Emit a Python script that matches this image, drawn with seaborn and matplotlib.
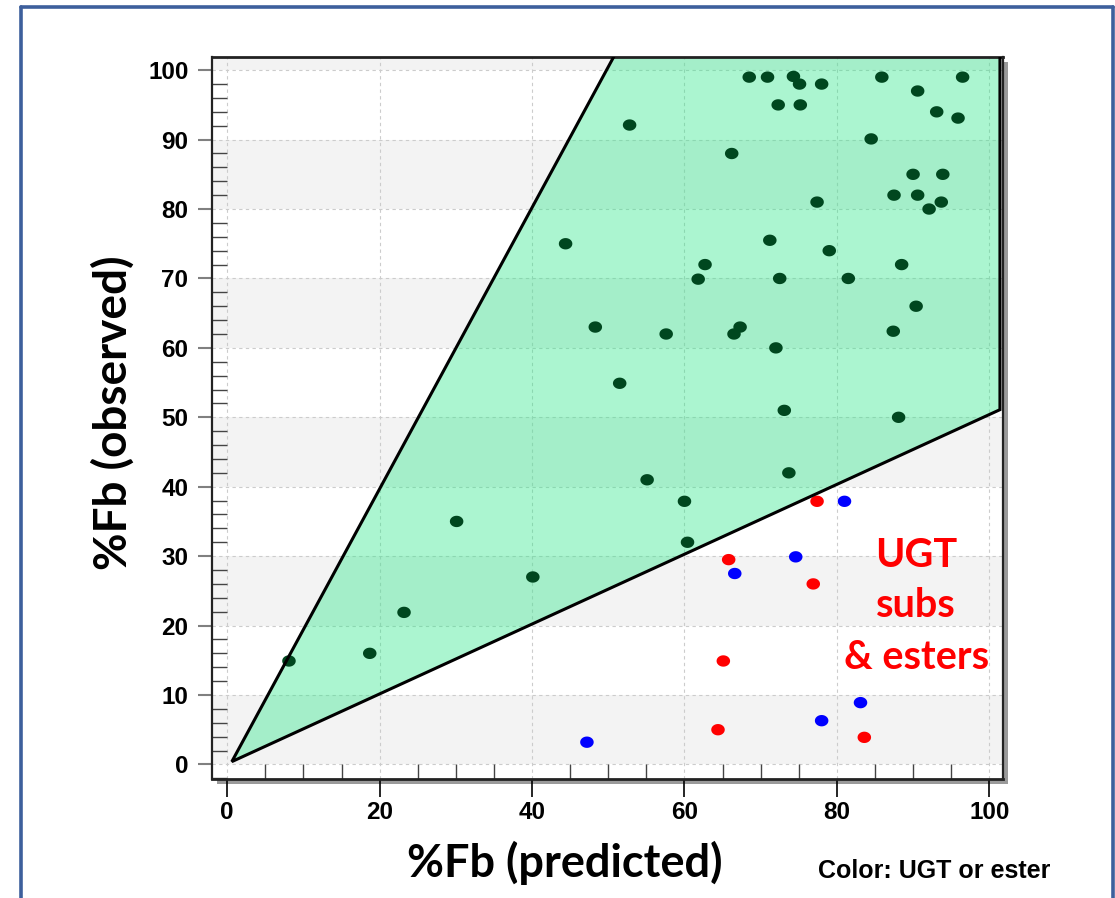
import numpy as np
import pandas as pd
import matplotlib
matplotlib.use("Agg")
import matplotlib.pyplot as plt
import seaborn as sns
from matplotlib.patches import Rectangle, Polygon
from matplotlib.lines import Line2D
from matplotlib.path import Path
from matplotlib.ticker import MultipleLocator

# ---------------- data ----------------
green_x = [8.1, 18.7, 23.2, 30.1, 40.1, 44.4, 48.3, 52.8, 51.5, 55.1, 57.6, 60.0, 60.4,
           61.8, 62.7, 66.2, 66.5, 67.3, 68.5, 70.9, 71.2, 72.0, 72.3, 72.5, 73.1, 73.7,
           74.3, 75.1, 75.2, 77.4, 78.0, 79.0, 81.5, 84.5, 85.9, 87.5, 87.4, 88.1, 88.5,
           90.0, 90.6, 90.6, 90.4, 92.1, 93.1, 93.7, 93.9, 95.9, 96.5]
green_y = [14.9, 16.0, 21.9, 35.0, 27.0, 75.0, 63.0, 92.1, 54.9, 41.0, 62.0, 37.9, 32.0,
           69.9, 72.0, 88.0, 62.0, 63.0, 99.0, 99.0, 75.5, 60.0, 95.0, 70.0, 51.0, 42.0,
           99.1, 98.0, 95.0, 81.0, 98.0, 74.0, 70.0, 90.1, 99.0, 82.0, 62.4, 50.0, 72.0,
           85.0, 97.0, 82.0, 66.0, 80.0, 94.0, 81.0, 85.0, 93.1, 99.0]
red_x = [77.4, 65.8, 76.9, 65.1, 64.4, 83.6]
red_y = [37.9, 29.5, 26.0, 14.9, 5.0, 3.9]
blue_x = [81.0, 74.6, 66.6, 83.1, 78.0, 47.2]
blue_y = [37.9, 29.9, 27.5, 8.9, 6.3, 3.2]

# acceptance region (predicted vs observed)
region_x = [0.6, 51.0, 101.4, 101.4]
region_y = [0.4, 102.5, 102.5, 51.1]

x_ticks = [0, 20, 40, 60, 80, 100]
y_ticks = [0, 10, 20, 30, 40, 50, 60, 70, 80, 90, 100]
annot_lines = ["UGT", "subs", "& esters"]

df = pd.DataFrame({
    "pred": green_x + red_x + blue_x,
    "obs": green_y + red_y + blue_y,
    "grp": ["other"] * len(green_x) + ["UGT"] * len(red_x) + ["ester"] * len(blue_x),
})

# ---------------- figure ----------------
sns.set_style("white")
plt.rcParams["font.family"] = ["Liberation Sans", "DejaVu Sans"]
plt.rcParams["text.color"] = "black"
plt.rcParams["xtick.labelcolor"] = "black"
plt.rcParams["ytick.labelcolor"] = "black"

W, H = 1115, 898
fig = plt.figure(figsize=(W / 100, H / 100), dpi=100)

def fx(px):
    return px / W

def fy(py):
    return 1 - py / H

ax_l, ax_r, ax_t, ax_b = 212, 1003, 57, 779
ax = fig.add_axes([fx(ax_l), fy(ax_b), fx(ax_r - ax_l), (ax_b - ax_t) / H])
ax.set_facecolor("white")
ax.set_zorder(2)

# drop shadow behind axes
fig.patches.append(Rectangle((fx(ax_l + 5), fy(ax_b + 5)), fx(ax_r - ax_l), (ax_b - ax_t) / H,
                             transform=fig.transFigure, facecolor="#9a9a9a",
                             edgecolor="none", zorder=1))

# outer blue frame
for xs, ys in [([21, 21], [7, 905]), ([21, 1113], [7, 7]), ([1113, 1113], [7, 905])]:
    fig.add_artist(Line2D([fx(v) for v in xs], [fy(v) for v in ys], transform=fig.transFigure,
                          color="#3d5f9c", lw=2.6, zorder=0))

ax.set_xlim(-2.0, 101.8)
ax.set_ylim(-2.1, 101.9)

# alternating horizontal bands
for lo in [0, 20, 40, 60, 80, 100]:
    ax.axhspan(lo, lo + 10, color="#f3f3f3", lw=0, zorder=0)

# dashed grid
for xv in x_ticks:
    ax.axvline(xv, color="#cccccc", lw=0.8, ls=(0, (3, 3)), zorder=0.5)
for yv in y_ticks:
    ax.axhline(yv, color="#cccccc", lw=0.8, ls=(0, (3, 3)), zorder=0.5)

# green region
verts = list(zip(region_x, region_y))
ax.add_patch(Polygon(verts, closed=True, facecolor="#2ee88a", alpha=0.4, edgecolor="none", zorder=1))
ax.add_patch(Polygon(verts, closed=True, facecolor="none", edgecolor="black", lw=2.2, zorder=3,
                     joinstyle="miter"))

# elliptical marker
t = np.linspace(0, 2 * np.pi, 40)
ell = Path(np.column_stack([np.cos(t), 0.84 * np.sin(t)]), closed=True)

sns.scatterplot(data=df, x="pred", y="obs", hue="grp",
                palette={"other": "#00471f", "UGT": "#ff0000", "ester": "#0000ff"},
                marker=ell, s=95, linewidth=0, legend=False, ax=ax, zorder=2)

# annotation
for line, yb in zip(annot_lines, [28.5, 21.2, 13.8]):
    ax.text(90.4, yb, line, color="#ff0000", fontsize=28.5, fontweight="bold",
            family=["Lato", "DejaVu Sans"], ha="center", va="baseline", zorder=4)

# ticks
ax.set_xticks(x_ticks)
ax.set_yticks(y_ticks)
ax.xaxis.set_minor_locator(MultipleLocator(5))
ax.yaxis.set_minor_locator(MultipleLocator(2))
ax.tick_params(axis="x", which="major", direction="out", length=13, width=1.2, color="black",
               labelsize=17.5, pad=3, labelcolor="black")
ax.tick_params(axis="y", which="major", direction="out", length=10, width=1.5, color="#808080",
               labelsize=17.5, pad=7, labelcolor="black")
ax.tick_params(axis="both", which="minor", direction="in", length=10.5, width=1.0, color="#444444")
ax.xaxis.set_ticks_position("bottom")
ax.yaxis.set_ticks_position("left")
for lab in ax.get_xticklabels() + ax.get_yticklabels():
    lab.set_fontweight("bold")

for side, sp in ax.spines.items():
    sp.set_visible(True)
    sp.set_color("#222222")
    sp.set_linewidth(1.6)
ax.spines["bottom"].set_linewidth(2.0)
ax.spines["top"].set_linewidth(2.0)
ax.set_xlabel("")
ax.set_ylabel("")

# axis titles
fig.text(fx(565), fy(877), "%Fb (predicted)", fontsize=32.5, fontweight="bold", color="black",
         family=["Lato", "DejaVu Sans"], ha="center", va="baseline")
fig.text(fx(113), fy(413), "%Fb (observed)", fontsize=33, fontweight="bold", rotation=90,
         color="black", family=["Lato", "DejaVu Sans"], ha="center", va="center")
fig.text(fx(818), fy(878), "Color: UGT or ester", fontsize=18, fontweight="bold", color="black",
         ha="left", va="baseline")

fig.savefig("out.png", dpi=100)
